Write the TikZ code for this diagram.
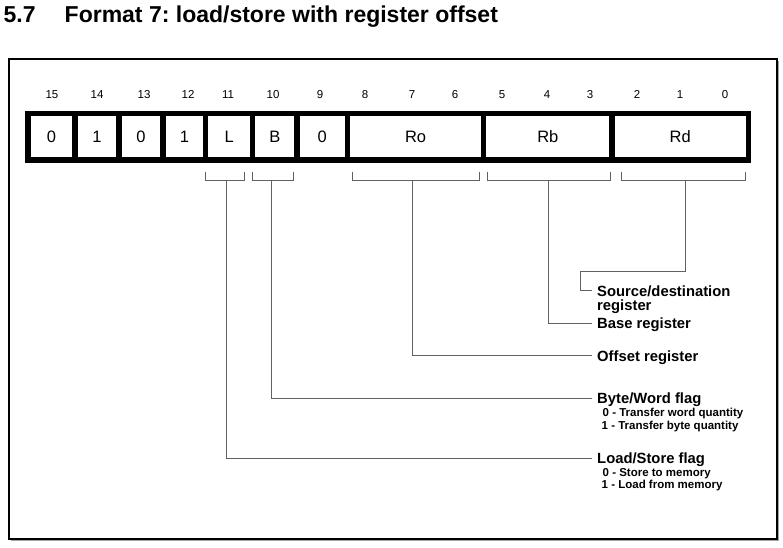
\documentclass[tikz,border=0pt]{standalone}
\usepackage{fontspec}
\setmainfont{Liberation Sans}
\usetikzlibrary{positioning}
\frenchspacing

\definecolor{leadgray}{gray}{0.38}

\tikzset{
  bitcell/.style={draw, 
    line width=5.3pt, 
    minimum height=46.7pt, 
    inner sep=0pt, 
    font=\fontsize{16.5}{18}\selectfont},
  bitnum/.style={anchor=base, inner sep=0pt, font=\fontsize{11.5}{13}\selectfont},
  fieldlbl/.style={anchor=west, 
    inner xsep=5pt, 
    inner ysep=0pt, 
    text height=10.6pt, 
    text depth=0pt, 
    font=\bfseries\fontsize{14.8}{16}\selectfont},
  valuelbl/.style={anchor=base west, inner sep=0pt, font=\bfseries\fontsize{11.5}{12.5}\selectfont},
  brace/.style={draw=leadgray, line width=1pt},
  lead/.style={draw=leadgray, line width=1pt}
}

\begin{document}
\begin{tikzpicture}[x=1pt, y=-1pt]
\useasboundingbox (0,0) rectangle (783,547);

\node[anchor=base west, inner sep=0pt, font=\bfseries\fontsize{23}{26}\selectfont] (secnum) at (3.5,22.7) {5.7};
\node[anchor=base west, inner sep=0pt, font=\bfseries\fontsize{23}{26}\selectfont] (title) at (64.5,22.7) 
  {Format 7: load/store with register offset};

\draw[black!35, line width=1pt] (10.5,540.8) -- (778.8,540.8) -- (778.8,60.5);
\draw[line width=1.3pt] (9,59) rectangle (777,539);

\foreach \n/\x in {15/52, 14/97, 13/144, 12/188, 11/228, 10/273, 9/320, 8/365, 
                   7/412, 6/455, 5/502, 4/547, 3/590, 2/637, 1/680, 0/725}
  \node[bitnum] (n\n) at (\x,98.5) {\n};

\node[bitcell, minimum width=47pt] (b15) at (51.5,136.7) {0};
\node[bitcell, minimum width=44pt] (b14) at (97,136.7) {1};
\node[bitcell, minimum width=44pt] (b13) at (141,136.7) {0};
\node[bitcell, minimum width=42.7pt] (b12) at (184.35,136.7) {1};
\node[bitcell, minimum width=46.8pt] (lbit) at (229.1,136.7) {L};
\node[bitcell, minimum width=44.5pt] (bbit) at (274.75,136.7) {B};
\node[bitcell, minimum width=50.5pt] (b9) at (322.25,136.7) {0};
\node[bitcell, minimum width=136.2pt] (ro) at (415.6,136.7) {Ro};
\node[bitcell, minimum width=128.3pt] (rb) at (547.85,136.7) {Rb};
\node[bitcell, minimum width=136.3pt] (rd) at (680.15,136.7) {Rd};

\draw[brace] (205.7,172) -- (205.7,180) -- (244,180) -- (244,172);
\draw[brace] (252.7,172) -- (252.7,180) -- (293,180) -- (293,172);
\draw[brace] (352,172) -- (352,180) -- (479,180) -- (479,172);
\draw[brace] (487,172) -- (487,180) -- (610,180) -- (610,172);
\draw[brace] (621,172) -- (621,180) -- (745,180) -- (745,172);
\coordinate (lstem) at (226.7,180);
\coordinate (bstem) at (271.7,180);
\coordinate (rostem) at (412,180);
\coordinate (rbstem) at (548,180);
\coordinate (rdstem) at (685,180);
\coordinate (rdbend) at (580.7,271.7);

\node[fieldlbl] (srcdst) at (592,290.7) {Source/destination};
\node[fieldlbl] (srcdstreg) at (592,305.5) {register};
\node[fieldlbl] (base) at (592,323.5) {Base register};
\node[fieldlbl] (offset) at (592,355.7) {Offset register};
\node[fieldlbl] (byteword) at (592,398.6) {Byte/Word flag};
\node[valuelbl] (bw0) at (602.5,416.6) {0 - Transfer word quantity};
\node[valuelbl] (bw1) at (601.5,429.1) {1 - Transfer byte quantity};
\node[fieldlbl] (loadstore) at (592,458.2) {Load/Store flag};
\node[valuelbl] (ls0) at (602.5,476) {0 - Store to memory};
\node[valuelbl] (ls1) at (601.5,488.5) {1 - Load from memory};

\draw[lead] (rdstem) |- (rdbend) |- (srcdst.west);
\draw[lead] (rbstem) |- (base.west);
\draw[lead] (rostem) |- (offset.west);
\draw[lead] (bstem) |- (byteword.west);
\draw[lead] (lstem) |- (loadstore.west);
\end{tikzpicture}
\end{document}
